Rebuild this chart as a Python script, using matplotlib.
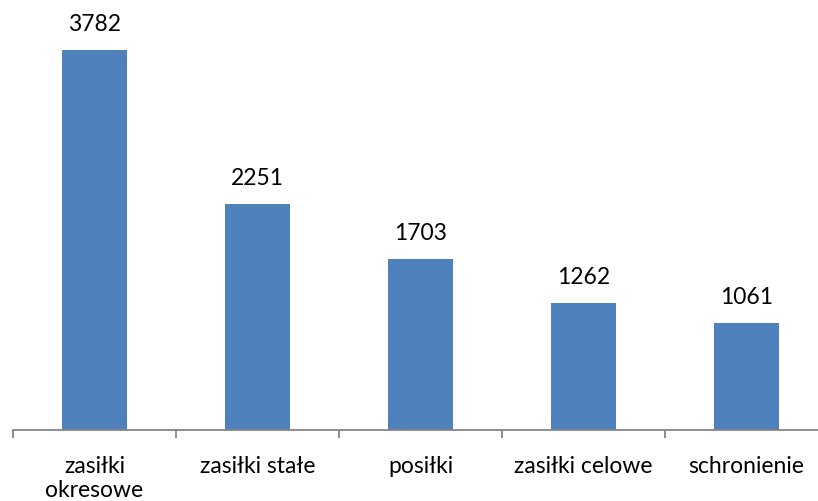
import numpy as np
import matplotlib
matplotlib.use("Agg")
import matplotlib.pyplot as plt

# dane
categories = ["zasiłki\nokresowe", "zasiłki stałe", "posiłki", "zasiłki celowe", "schronienie"]
values = [3782, 2251, 1703, 1262, 1061]

plt.rcParams['font.family'] = ['Lato', 'DejaVu Sans']

W, H = 818, 502
fig = plt.figure(figsize=(W / 100, H / 100), dpi=100)
# axes szerszy niż figura - oś wychodzi poza prawą krawędź jak w oryginale
ax = fig.add_axes([13 / W, 71 / H, 815 / W, 431 / H])

x = np.arange(len(categories))
bars = ax.bar(x, values, width=0.395, color='#4F81BD', zorder=2)

for xi, v in zip(x, values):
    ax.annotate(str(v), (xi, v), xytext=(0, 11.5), textcoords='offset points',
                ha='center', va='bottom', fontsize=16.5, color='black')

ax.set_xlim(-0.5, len(categories) - 0.5)
ax.set_ylim(0, 4290)

for s in ['top', 'right', 'left']:
    ax.spines[s].set_visible(False)
ax.spines['bottom'].set_color('#868686')
ax.spines['bottom'].set_linewidth(1.3)
ax.set_yticks([])

ax.set_xticks(x)
ax.set_xticklabels(categories, fontsize=16.5, linespacing=1.2, va='top')
ax.tick_params(axis='x', which='major', length=0, pad=18)
ax.set_xticks(np.arange(-0.5, len(categories) + 0.5, 1), minor=True)
ax.tick_params(axis='x', which='minor', length=6, width=1.3, color='#868686', direction='out')

fig.savefig('out.png', dpi=100)
